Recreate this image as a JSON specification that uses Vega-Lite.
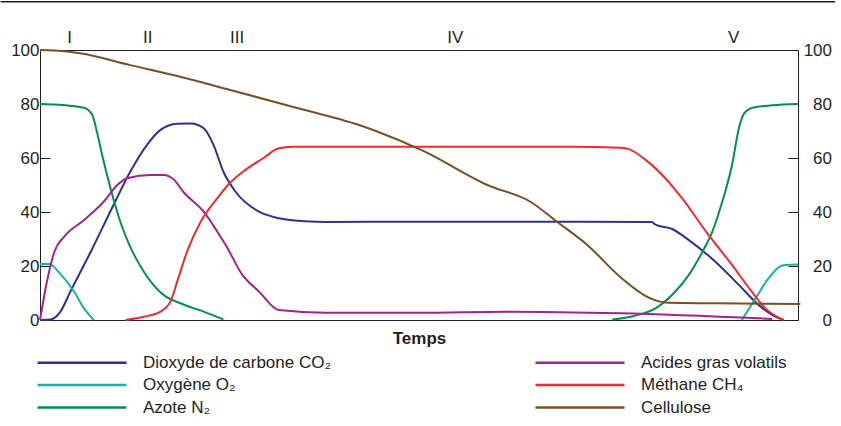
{
 "$schema": "https://vega.github.io/schema/vega-lite/v6.json",
 "width": 758, "height": 270,
 "autosize": {"type": "none"},
 "padding": {"left": 40, "top": 50, "right": 43, "bottom": 106},
 "background": "white",
 "config": {"view": {"stroke": "#231f20", "strokeWidth": 1}, "font": "Liberation Sans", "axis": {"grid": false}},
 "datasets": {
  "phases": [
   {"n": "I", "t": 3.9}, {"n": "II", "t": 14.2}, {"n": "III", "t": 26}, {"n": "IV", "t": 54.8}, {"n": "V", "t": 91.5}
  ],
  "series": [
   {"g": "Dioxyde de carbone CO₂", "p": 1, "t": 0, "v": 0},
   {"g": "Dioxyde de carbone CO₂", "p": 1, "t": 1.4, "v": 0.2},
   {"g": "Dioxyde de carbone CO₂", "p": 1, "t": 2.7, "v": 3.1},
   {"g": "Dioxyde de carbone CO₂", "p": 1, "t": 4, "v": 10.5},
   {"g": "Dioxyde de carbone CO₂", "p": 1, "t": 6.7, "v": 25.3},
   {"g": "Dioxyde de carbone CO₂", "p": 1, "t": 9.7, "v": 42.6},
   {"g": "Dioxyde de carbone CO₂", "p": 1, "t": 11.9, "v": 54.9},
   {"g": "Dioxyde de carbone CO₂", "p": 1, "t": 14.1, "v": 64.8},
   {"g": "Dioxyde de carbone CO₂", "p": 1, "t": 15.9, "v": 70.4},
   {"g": "Dioxyde de carbone CO₂", "p": 1, "t": 18.1, "v": 72.7},
   {"g": "Dioxyde de carbone CO₂", "p": 1, "t": 19.9, "v": 72.8},
   {"g": "Dioxyde de carbone CO₂", "p": 1, "t": 21.6, "v": 71},
   {"g": "Dioxyde de carbone CO₂", "p": 1, "t": 22.9, "v": 64.8},
   {"g": "Dioxyde de carbone CO₂", "p": 1, "t": 24.2, "v": 54.9},
   {"g": "Dioxyde de carbone CO₂", "p": 1, "t": 25.8, "v": 47.5},
   {"g": "Dioxyde de carbone CO₂", "p": 1, "t": 28.9, "v": 40.1},
   {"g": "Dioxyde de carbone CO₂", "p": 1, "t": 31.5, "v": 37.7},
   {"g": "Dioxyde de carbone CO₂", "p": 1, "t": 35, "v": 36.6},
   {"g": "Dioxyde de carbone CO₂", "p": 1, "t": 37.7, "v": 36.3},
   {"g": "Dioxyde de carbone CO₂", "p": 1, "t": 50, "v": 36.4},
   {"g": "Dioxyde de carbone CO₂", "p": 1, "t": 65, "v": 36.4},
   {"g": "Dioxyde de carbone CO₂", "p": 1, "t": 80.7, "v": 36.3},
   {"g": "Dioxyde de carbone CO₂", "p": 1, "t": 81.2, "v": 35.3},
   {"g": "Dioxyde de carbone CO₂", "p": 1, "t": 83.4, "v": 33.7},
   {"g": "Dioxyde de carbone CO₂", "p": 1, "t": 85.6, "v": 29.6},
   {"g": "Dioxyde de carbone CO₂", "p": 1, "t": 89.1, "v": 21.6},
   {"g": "Dioxyde de carbone CO₂", "p": 1, "t": 92.2, "v": 13},
   {"g": "Dioxyde de carbone CO₂", "p": 1, "t": 94.8, "v": 5.6},
   {"g": "Dioxyde de carbone CO₂", "p": 1, "t": 96.6, "v": 1.9},
   {"g": "Dioxyde de carbone CO₂", "p": 1, "t": 98.1, "v": 0},

   {"g": "Oxygène O₂", "p": 1, "t": 0, "v": 20.7},
   {"g": "Oxygène O₂", "p": 1, "t": 1.2, "v": 20.7},
   {"g": "Oxygène O₂", "p": 1, "t": 2.8, "v": 16.7},
   {"g": "Oxygène O₂", "p": 1, "t": 4.5, "v": 10.5},
   {"g": "Oxygène O₂", "p": 1, "t": 5.8, "v": 4.3},
   {"g": "Oxygène O₂", "p": 1, "t": 7.1, "v": 0},
   {"g": "Oxygène O₂", "p": 2, "t": 92.6, "v": 0},
   {"g": "Oxygène O₂", "p": 2, "t": 94.4, "v": 8},
   {"g": "Oxygène O₂", "p": 2, "t": 96.1, "v": 15.4},
   {"g": "Oxygène O₂", "p": 2, "t": 97.6, "v": 19.8},
   {"g": "Oxygène O₂", "p": 2, "t": 98.3, "v": 20.4},
   {"g": "Oxygène O₂", "p": 2, "t": 100, "v": 20.6},

   {"g": "Azote N₂", "p": 1, "t": 0, "v": 80},
   {"g": "Azote N₂", "p": 1, "t": 3.1, "v": 79.6},
   {"g": "Azote N₂", "p": 1, "t": 5.8, "v": 78.6},
   {"g": "Azote N₂", "p": 1, "t": 6.9, "v": 75.9},
   {"g": "Azote N₂", "p": 1, "t": 7.5, "v": 69.8},
   {"g": "Azote N₂", "p": 1, "t": 8.2, "v": 61.1},
   {"g": "Azote N₂", "p": 1, "t": 9.3, "v": 48.8},
   {"g": "Azote N₂", "p": 1, "t": 10.6, "v": 36.4},
   {"g": "Azote N₂", "p": 1, "t": 11.7, "v": 28.4},
   {"g": "Azote N₂", "p": 1, "t": 13.7, "v": 17.9},
   {"g": "Azote N₂", "p": 1, "t": 16.3, "v": 9.3},
   {"g": "Azote N₂", "p": 1, "t": 18.5, "v": 6.2},
   {"g": "Azote N₂", "p": 1, "t": 21.6, "v": 3.1},
   {"g": "Azote N₂", "p": 1, "t": 24.2, "v": 0.2},
   {"g": "Azote N₂", "p": 2, "t": 75.5, "v": 0.2},
   {"g": "Azote N₂", "p": 2, "t": 78.5, "v": 1.6},
   {"g": "Azote N₂", "p": 2, "t": 81.2, "v": 4.3},
   {"g": "Azote N₂", "p": 2, "t": 83.6, "v": 9.9},
   {"g": "Azote N₂", "p": 2, "t": 85.6, "v": 16.7},
   {"g": "Azote N₂", "p": 2, "t": 87.4, "v": 25.3},
   {"g": "Azote N₂", "p": 2, "t": 88.7, "v": 32.7},
   {"g": "Azote N₂", "p": 2, "t": 90, "v": 43.8},
   {"g": "Azote N₂", "p": 2, "t": 91.3, "v": 57.4},
   {"g": "Azote N₂", "p": 2, "t": 92.2, "v": 71},
   {"g": "Azote N₂", "p": 2, "t": 92.9, "v": 76.5},
   {"g": "Azote N₂", "p": 2, "t": 94, "v": 78.6},
   {"g": "Azote N₂", "p": 2, "t": 96.6, "v": 79.5},
   {"g": "Azote N₂", "p": 2, "t": 100, "v": 80},

   {"g": "Acides gras volatils", "p": 1, "t": 0, "v": 0},
   {"g": "Acides gras volatils", "p": 1, "t": 1, "v": 15.4},
   {"g": "Acides gras volatils", "p": 1, "t": 1.9, "v": 25.3},
   {"g": "Acides gras volatils", "p": 1, "t": 3.2, "v": 30.9},
   {"g": "Acides gras volatils", "p": 1, "t": 5.8, "v": 37},
   {"g": "Acides gras volatils", "p": 1, "t": 8.4, "v": 43.8},
   {"g": "Acides gras volatils", "p": 1, "t": 10.2, "v": 50},
   {"g": "Acides gras volatils", "p": 1, "t": 11.5, "v": 52.5},
   {"g": "Acides gras volatils", "p": 1, "t": 14.6, "v": 53.7},
   {"g": "Acides gras volatils", "p": 1, "t": 16.3, "v": 53.7},
   {"g": "Acides gras volatils", "p": 1, "t": 17.7, "v": 51.9},
   {"g": "Acides gras volatils", "p": 1, "t": 18.9, "v": 47.5},
   {"g": "Acides gras volatils", "p": 1, "t": 21.6, "v": 40.1},
   {"g": "Acides gras volatils", "p": 1, "t": 23.4, "v": 32.7},
   {"g": "Acides gras volatils", "p": 1, "t": 24.5, "v": 27.8},
   {"g": "Acides gras volatils", "p": 1, "t": 26.7, "v": 16.7},
   {"g": "Acides gras volatils", "p": 1, "t": 28.9, "v": 10.5},
   {"g": "Acides gras volatils", "p": 1, "t": 31.5, "v": 3.7},
   {"g": "Acides gras volatils", "p": 1, "t": 37.7, "v": 2.7},
   {"g": "Acides gras volatils", "p": 1, "t": 50, "v": 2.7},
   {"g": "Acides gras volatils", "p": 1, "t": 61.6, "v": 3.1},
   {"g": "Acides gras volatils", "p": 1, "t": 76.6, "v": 2.5},
   {"g": "Acides gras volatils", "p": 1, "t": 96.6, "v": 0.4},

   {"g": "Méthane CH₄", "p": 1, "t": 11.3, "v": 0},
   {"g": "Méthane CH₄", "p": 1, "t": 13.7, "v": 1.2},
   {"g": "Méthane CH₄", "p": 1, "t": 15.9, "v": 3.1},
   {"g": "Méthane CH₄", "p": 1, "t": 17.2, "v": 6.8},
   {"g": "Méthane CH₄", "p": 1, "t": 18.1, "v": 14.2},
   {"g": "Méthane CH₄", "p": 1, "t": 19.4, "v": 25.3},
   {"g": "Méthane CH₄", "p": 1, "t": 21.2, "v": 36.4},
   {"g": "Méthane CH₄", "p": 1, "t": 23.4, "v": 45.1},
   {"g": "Méthane CH₄", "p": 1, "t": 24.8, "v": 50},
   {"g": "Méthane CH₄", "p": 1, "t": 27.1, "v": 55.6},
   {"g": "Méthane CH₄", "p": 1, "t": 29.5, "v": 60},
   {"g": "Méthane CH₄", "p": 1, "t": 31.5, "v": 63.6},
   {"g": "Méthane CH₄", "p": 1, "t": 33.3, "v": 64.2},
   {"g": "Méthane CH₄", "p": 1, "t": 50, "v": 64.2},
   {"g": "Méthane CH₄", "p": 1, "t": 70, "v": 64.2},
   {"g": "Méthane CH₄", "p": 1, "t": 76.6, "v": 63.8},
   {"g": "Méthane CH₄", "p": 1, "t": 77.7, "v": 63.3},
   {"g": "Méthane CH₄", "p": 1, "t": 79.9, "v": 59.3},
   {"g": "Méthane CH₄", "p": 1, "t": 82.5, "v": 52.5},
   {"g": "Méthane CH₄", "p": 1, "t": 84.7, "v": 45.1},
   {"g": "Méthane CH₄", "p": 1, "t": 88.2, "v": 31.5},
   {"g": "Méthane CH₄", "p": 1, "t": 91.3, "v": 20.4},
   {"g": "Méthane CH₄", "p": 1, "t": 93.9, "v": 10.5},
   {"g": "Méthane CH₄", "p": 1, "t": 95.7, "v": 4.3},
   {"g": "Méthane CH₄", "p": 1, "t": 98.1, "v": 0},

   {"g": "Cellulose", "p": 1, "t": 0, "v": 100},
   {"g": "Cellulose", "p": 1, "t": 2, "v": 99.8},
   {"g": "Cellulose", "p": 1, "t": 5.3, "v": 98.8},
   {"g": "Cellulose", "p": 1, "t": 11.9, "v": 94.4},
   {"g": "Cellulose", "p": 1, "t": 18.5, "v": 90.1},
   {"g": "Cellulose", "p": 1, "t": 25.1, "v": 85.2},
   {"g": "Cellulose", "p": 1, "t": 33.3, "v": 79},
   {"g": "Cellulose", "p": 1, "t": 42.1, "v": 72.2},
   {"g": "Cellulose", "p": 1, "t": 44.3, "v": 70},
   {"g": "Cellulose", "p": 1, "t": 50.5, "v": 62.7},
   {"g": "Cellulose", "p": 1, "t": 59, "v": 50},
   {"g": "Cellulose", "p": 1, "t": 64.7, "v": 43.8},
   {"g": "Cellulose", "p": 1, "t": 68.2, "v": 36.4},
   {"g": "Cellulose", "p": 1, "t": 72.2, "v": 27.8},
   {"g": "Cellulose", "p": 1, "t": 76.6, "v": 15.8},
   {"g": "Cellulose", "p": 1, "t": 80.3, "v": 8.3},
   {"g": "Cellulose", "p": 1, "t": 82.9, "v": 6.4},
   {"g": "Cellulose", "p": 1, "t": 89.1, "v": 6.2},
   {"g": "Cellulose", "p": 1, "t": 100.3, "v": 5.9}
  ]
 },
 "layer": [
  {
   "data": {"name": "series"},
   "mark": {"type": "line", "interpolate": "monotone", "strokeWidth": 2},
   "encoding": {
    "x": {"field": "t", "type": "quantitative", "scale": {"domain": [0, 100], "nice": false, "zero": false},
          "axis": {"title": "Temps", "titleFontSize": 17, "titleFontWeight": "bold", "titleFont": "Liberation Sans", "titleColor": "#231f20", "labels": false, "ticks": false, "domain": false, "titlePadding": 10}},
    "y": {"field": "v", "type": "quantitative", "scale": {"domain": [0, 100], "nice": false},
          "axis": {"orient": "left", "values": [0, 20, 40, 60, 80, 100], "tickSize": -10, "tickColor": "#231f20", "labelPadding": 11, "labelFontSize": 17, "labelColor": "#231f20", "labelFont": "Liberation Sans", "domain": false, "title": null}},
    "color": {"field": "g", "type": "nominal",
              "scale": {"domain": ["Dioxyde de carbone CO₂", "Oxygène O₂", "Azote N₂", "Acides gras volatils", "Méthane CH₄", "Cellulose"],
                        "range": ["#2e3192", "#1bb0a8", "#00924a", "#a2238f", "#ee2a2e", "#7a4f22"]},
              "legend": {"orient": "none", "legendX": 85, "legendY": 304, "columns": 2, "columnPadding": 198, "rowPadding": 4.5, "title": null, "padding": 0,
                         "symbolType": "M-19.2,0H-1.4", "symbolSize": 100, "symbolStrokeWidth": 2.5,
                         "labelFontSize": 17, "labelFont": "Liberation Sans", "labelColor": "#231f20", "labelOffset": 1, "labelLimit": 400}},
    "detail": {"field": "p", "type": "nominal"}
   }
  },
  {
   "data": {"name": "phases"},
   "mark": {"type": "text", "fontSize": 17, "font": "Liberation Sans", "color": "#231f20", "align": "center", "baseline": "alphabetic"},
   "encoding": {
    "x": {"field": "t", "type": "quantitative", "axis": {"title": "Temps", "titleFontSize": 17, "titleFontWeight": "bold", "titleFont": "Liberation Sans", "titleColor": "#231f20", "labels": false, "ticks": false, "domain": false, "titlePadding": 10}},
    "y": {"datum": 102.5, "type": "quantitative",
          "axis": {"orient": "right", "values": [0, 20, 40, 60, 80, 100], "tickSize": -10, "tickColor": "#231f20", "labelPadding": 43.5, "labelAlign": "right", "labelFontSize": 17, "labelColor": "#231f20", "labelFont": "Liberation Sans", "domain": false, "title": null}},
    "text": {"field": "n"}
   }
  },
  {
   "data": {"values": [{}]},
   "mark": {"type": "rule", "color": "#231f20", "strokeWidth": 1.5},
   "encoding": {
    "x": {"datum": -5.2, "type": "quantitative", "axis": {"title": "Temps", "titleFontSize": 17, "titleFontWeight": "bold", "titleFont": "Liberation Sans", "titleColor": "#231f20", "labels": false, "ticks": false, "domain": false, "titlePadding": 10}},
    "x2": {"datum": 104.9},
    "y": {"datum": 117.9, "type": "quantitative", "axis": null}
   }
  }
 ],
 "resolve": {"axis": {"y": "independent"}}
}
